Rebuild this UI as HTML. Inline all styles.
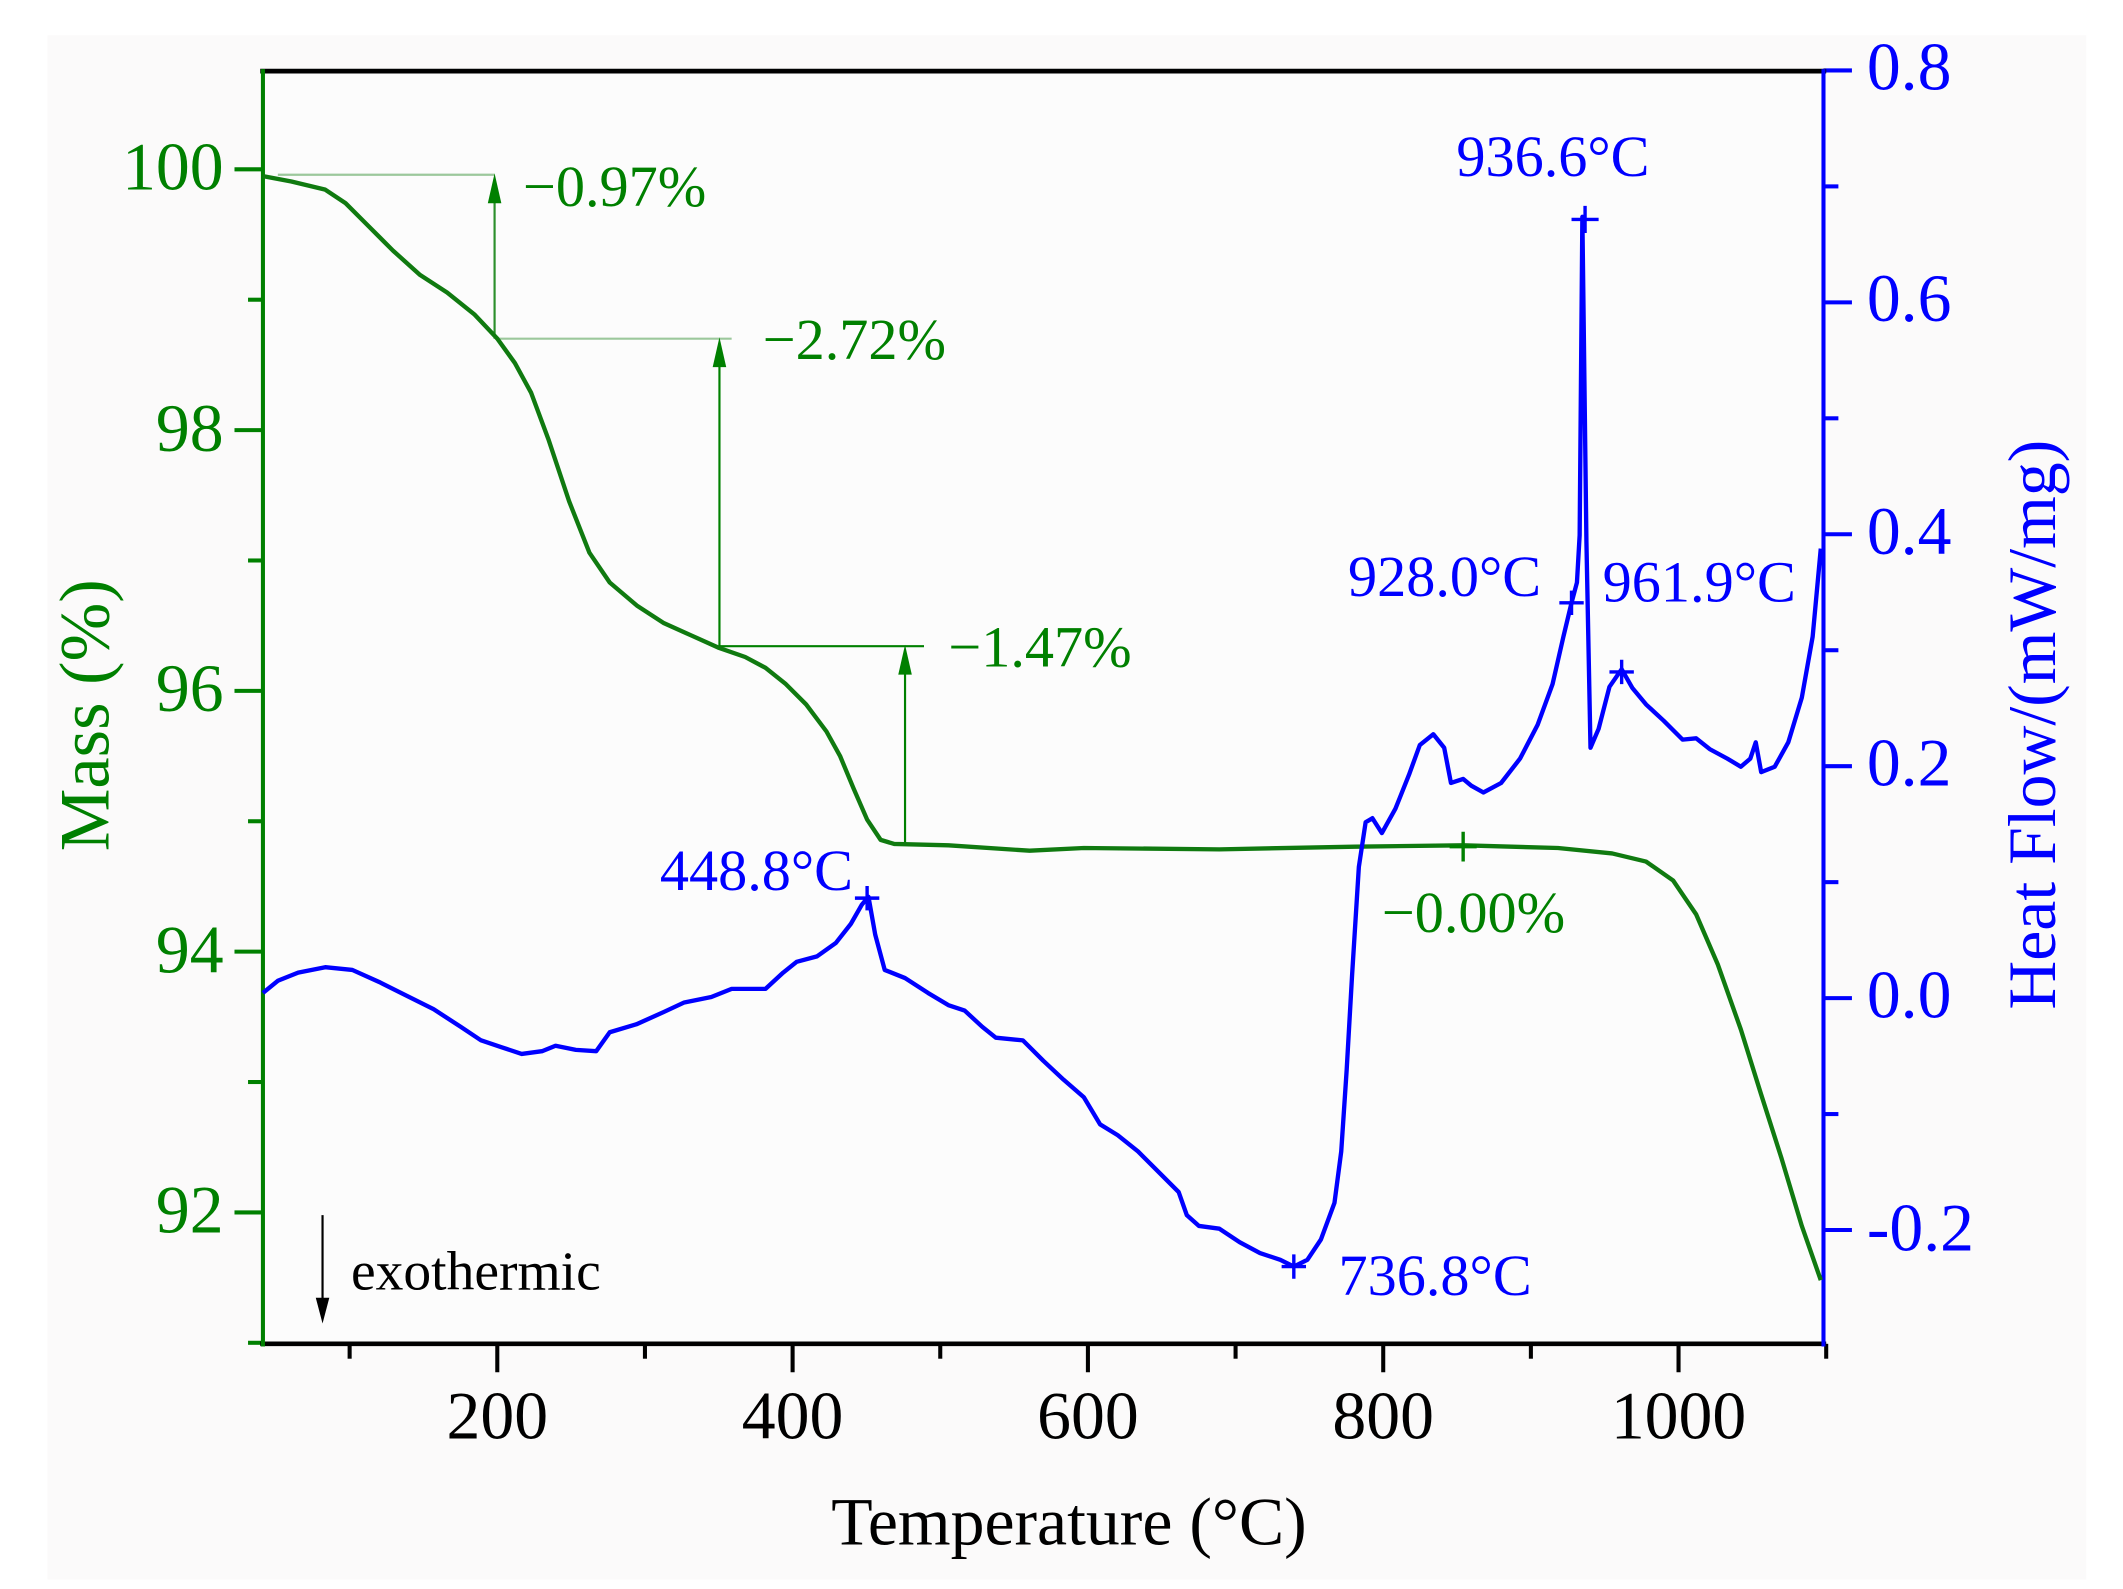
<!DOCTYPE html>
<html><head><meta charset="utf-8"><style>html,body{margin:0;padding:0;background:#fff}svg{display:block}</style></head>
<body>
<svg width="2123" height="1589" viewBox="0 0 1567 1173" xmlns="http://www.w3.org/2000/svg" font-family="'Liberation Serif', serif">
<rect x="0" y="0" width="1567" height="1173" fill="#fff"/>
<rect x="35" y="26" width="1505" height="1140" fill="#fbfafa"/>
<rect x="194" y="52" width="1152" height="940" fill="#fcfcfc"/>
<g id="ticks"></g>
<line x1="192" y1="52.5" x2="1348" y2="52.5" stroke="#000" stroke-width="3.5"/>
<line x1="192" y1="992" x2="1348" y2="992" stroke="#000" stroke-width="3.5"/>
<line x1="194" y1="51" x2="194" y2="994" stroke="#008000" stroke-width="3"/>
<line x1="1346" y1="51" x2="1346" y2="994" stroke="#0000ff" stroke-width="3"/>
<g stroke-width="1.6" fill="none">
<line x1="205" y1="129" x2="365" y2="129" stroke="#9cc89c"/>
<line x1="365" y1="250" x2="365" y2="142" stroke="#2c8f2c"/>
<line x1="367" y1="250" x2="540" y2="250" stroke="#9cc89c"/>
<line x1="531" y1="477" x2="531" y2="263" stroke="#008000"/>
<line x1="531" y1="477" x2="682" y2="477" stroke="#008000"/>
<line x1="668" y1="623" x2="668" y2="490" stroke="#008000"/>
<line x1="238" y1="897" x2="238" y2="965" stroke="#000"/>
</g>
<g fill="#008000">
<polygon points="365,128 360,150 370,150"/>
<polygon points="531,249 526,271 536,271"/>
<polygon points="668,476 663,498 673,498"/>
</g>
<polygon points="238,977 233,958 243,958" fill="#000"/>
<path id="tg" fill="none" stroke="#107a10" stroke-width="3.2" stroke-linejoin="round"/>
<path id="dsc" fill="none" stroke="#0000ff" stroke-width="3.2" stroke-linejoin="round"/>
<g stroke="#0000ff" stroke-width="2.5">
<path d="M631 663h18M640 654v18"/>
<path d="M946 935h18M955 926v18"/>
<path d="M1151 445h18M1160 436v18"/>
<path d="M1160 162h20M1170 152v20"/>
<path d="M1188 496h18M1197 487v18"/>
</g>
<path d="M1070 625h20M1080 614v22" stroke="#008000" stroke-width="2.5"/>
<g font-size="43" fill="#008000">
<text x="386" y="152">−0.97%</text>
<text x="563" y="265">−2.72%</text>
<text x="700" y="492">−1.47%</text>
<text x="1020" y="688">−0.00%</text>
</g>
<g font-size="43" fill="#0000ff">
<text x="1075" y="130">936.6°C</text>
<text x="995" y="440">928.0°C</text>
<text x="1183" y="444">961.9°C</text>
<text x="487" y="657">448.8°C</text>
<text x="988" y="956">736.8°C</text>
</g>
<text x="259" y="952" font-size="41" fill="#000">exothermic</text>
<g font-size="50" fill="#008000" text-anchor="end">
<text x="165" y="140">100</text>
<text x="165" y="333">98</text>
<text x="165" y="525">96</text>
<text x="165" y="718">94</text>
<text x="165" y="910">92</text>
</g>
<g font-size="50" fill="#0000ff">
<text x="1378" y="66">0.8</text>
<text x="1378" y="237">0.6</text>
<text x="1378" y="409">0.4</text>
<text x="1378" y="580">0.2</text>
<text x="1378" y="751">0.0</text>
<text x="1378" y="923">-0.2</text>
</g>
<g font-size="50" fill="#000" text-anchor="middle">
<text x="367" y="1062">200</text>
<text x="585" y="1062">400</text>
<text x="803" y="1062">600</text>
<text x="1021" y="1062">800</text>
<text x="1239" y="1062">1000</text>
</g>
<text x="789" y="1140" font-size="50" text-anchor="middle" fill="#000">Temperature (°C)</text>
<text transform="translate(80,528) rotate(-90)" font-size="52" text-anchor="middle" fill="#008000">Mass (%)</text>
<text transform="translate(1517,535) rotate(-90)" font-size="50" text-anchor="middle" fill="#0000ff">Heat Flow/(mW/mg)</text>
<script>
(function(){
var ns="http://www.w3.org/2000/svg",g=document.getElementById("ticks");
function ln(x1,y1,x2,y2,c){var l=document.createElementNS(ns,"line");l.setAttribute("x1",x1);l.setAttribute("y1",y1);l.setAttribute("x2",x2);l.setAttribute("y2",y2);l.setAttribute("stroke",c);l.setAttribute("stroke-width","3");g.appendChild(l);}
for(var T=100;T<=1100;T+=100){var x=367+(T-200)*1.09;ln(x,992,x,T%200==0?1013:1003,"#000");}
for(var i=0;i<10;i++){var y=125+i*96.25;if(y>992)break;ln(194,y,i%2==0?173:183,y,"#008000");}
for(var i=0;i<11;i++){var y=52+i*85.6;if(y>992)break;ln(1346,y,i%2==0?1367:1357,y,"#0000ff");}
var tg=[[194,130],[215,134],[240,140],[255,150],[270,165],[290,185],[310,203],[330,216],[350,232],[367,250],[380,268],[392,290],[405,325],[420,370],[435,408],[450,430],[470,447],[490,460],[510,469],[530,478],[550,485],[565,493],[580,505],[595,520],[610,540],[620,558],[630,582],[640,605],[650,620],[660,623],[700,624],[760,628],[800,626],[900,627],[1000,625],[1080,624],[1150,626],[1190,630],[1215,636],[1235,650],[1252,675],[1268,712],[1285,760],[1300,808],[1315,855],[1330,905],[1344,945]];
var ds=[[194,733],[205,724],[220,718],[240,714],[260,716],[280,725],[300,735],[320,745],[340,758],[355,768],[370,773],[385,778],[400,776],[410,772],[425,775],[440,776],[450,762],[470,756],[490,747],[505,740],[525,736],[540,730],[565,730],[578,718],[588,710],[603,706],[617,696],[628,682],[636,668],[641,662],[646,690],[653,716],[668,722],[685,733],[700,742],[712,746],[725,758],[735,766],[755,768],[770,783],[785,797],[800,810],[812,830],[825,838],[840,850],[858,868],[870,880],[876,897],[885,905],[900,907],[915,917],[930,925],[945,930],[955,935],[965,930],[975,915],[985,888],[990,850],[994,790],[998,720],[1003,640],[1008,607],[1013,604],[1020,615],[1030,597],[1040,572],[1048,550],[1058,542],[1066,552],[1071,578],[1080,575],[1086,580],[1095,585],[1108,578],[1122,560],[1135,535],[1146,505],[1154,470],[1160,445],[1164,430],[1166,395],[1168,160],[1171,400],[1174,552],[1180,538],[1188,507],[1197,494],[1205,508],[1215,520],[1228,532],[1242,546],[1252,545],[1262,553],[1275,560],[1285,566],[1292,560],[1296,548],[1300,570],[1310,566],[1320,548],[1330,515],[1338,470],[1344,405]];
function p(a){return "M"+a.map(function(q){return q[0]+" "+q[1]}).join("L");}
document.getElementById("tg").setAttribute("d",p(tg));
document.getElementById("dsc").setAttribute("d",p(ds));
})();
</script>
</svg>
</body></html>
